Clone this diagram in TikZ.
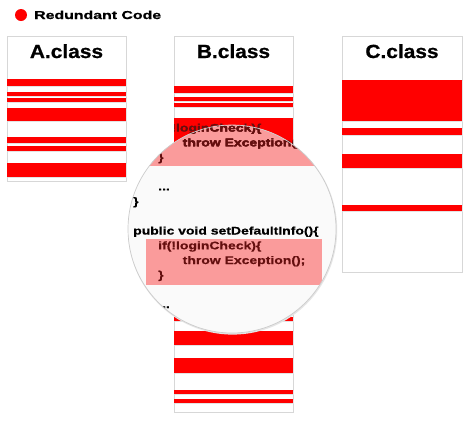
\documentclass[tikz,border=0pt]{standalone}
\usepackage{fontspec}
\setmainfont{Liberation Sans}
\newfontfamily\legendfont{Liberation Sans}[FakeStretch=1.38,FakeBold=0.8]
\newfontfamily\titlefont{Liberation Sans}[FakeStretch=1.1,FakeBold=0.8]
\newfontfamily\codefont{Liberation Sans}[FakeStretch=1.27,FakeBold=0.6]
\definecolor{barred}{RGB}{255,0,0}
\definecolor{pinkhl}{RGB}{250,155,155}
\definecolor{codered}{RGB}{100,15,15}
\definecolor{lensbg}{RGB}{250,250,250}
\definecolor{boxline}{RGB}{215,215,215}
\begin{document}
\begin{tikzpicture}[x=1pt,y=-1pt,
  classbox/.style={draw=boxline, line width=0.9pt, fill=white},
  bar/.style={fill=barred},
  barshadow/.style={fill=black!11},
  title/.style={font=\titlefont\bfseries\fontsize{19}{19}\selectfont, inner sep=0pt, anchor=base},
  code/.style={font=\codefont\bfseries\fontsize{11}{11}\selectfont, inner sep=0pt, anchor=base west},
  hl/.style={code, text=codered},
  legendtext/.style={font=\legendfont\bfseries\fontsize{11.5}{11.5}\selectfont, inner sep=0pt, anchor=base west}]
\useasboundingbox (0,0) rectangle (470,421);
\fill[white] (0,0) rectangle (470,421);

% legend
\fill[barred] (21,15) circle[radius=6];
\node[legendtext] (legend) at (34,19) {Redundant Code};

% class boxes
\draw[classbox] (7,36) rectangle (126,181);
\draw[classbox] (174,36) rectangle (293,412);
\draw[classbox] (342,36) rectangle (462,272);

\node[title] (ta) at (66.5,58) {A.class};
\node[title] (tb) at (233.5,58) {B.class};
\node[title] (tc) at (402,58) {C.class};

% shadows of bars
\foreach \a/\b in {79/86,92/96,98/102,108/121,137/143,146/151,163/177}
  \fill[barshadow] (8,\a+1.3) rectangle (127,\b+1.3);
\foreach \a/\b in {86/93,97/101,103/107,118/166,316.5/320.7,331/345,358/373,390/394,399/403}
  \fill[barshadow] (175,\a+1.3) rectangle (294,\b+1.3);
\foreach \a/\b in {80/121,128/135,154/168,205/211}
  \fill[barshadow] (343,\a+1.3) rectangle (463,\b+1.3);
% bars
\foreach \a/\b in {79/86,92/96,98/102,108/121,137/143,146/151,163/177}
  \fill[bar] (7,\a) rectangle (126,\b);
\foreach \a/\b in {86/93,97/101,103/107,118/166,316.5/320.7,331/345,358/373,390/394,399/403}
  \fill[bar] (174,\a) rectangle (293,\b);
\foreach \a/\b in {80/121,128/135,154/168,205/211}
  \fill[bar] (342,\a) rectangle (462,\b);

% lens
\coordinate (lensc) at (232,229);
\fill[black!10] (232.6,230) circle[radius=104.6];
\begin{scope}
  \clip (lensc) circle[radius=104];
  \fill[lensbg] (lensc) circle[radius=104];
  \fill[pinkhl] (146,118) rectangle (322,166);
  \fill[pinkhl] (146,239) rectangle (322,285);
  \node[hl] (ua1) at (158,131.6) {if(!loginCheck)\{};
  \node[hl] (ub1) at (182.5,146.3) {throw Exception();};
  \node[hl] (uc1) at (158,161) {\}};
  \node[code] (d1) at (158,190.4) {...};
  \node[code] (e1) at (133,205.1) {\}};
  \node[code] (pub) at (133,234.5) {public void setDefaultInfo()\{};
  \node[hl] (la) at (158,249.3) {if(!loginCheck)\{};
  \node[hl] (lb) at (182.5,264) {throw Exception();};
  \node[hl] (lc) at (158,278.7) {\}};
  \node[code] (d2) at (158,308.1) {...};
\end{scope}
\begin{scope}
  \clip (174,118) rectangle (293,166);
  \node[hl] (ua2) at (158,131.6) {if(!loginCheck)\{};
  \node[hl] (ub2) at (182.5,146.3) {throw Exception();};
  \node[hl] (uc2) at (158,161) {\}};
\end{scope}
\draw[black!20, line width=0.7pt] (lensc) circle[radius=104];
\end{tikzpicture}
\end{document}
